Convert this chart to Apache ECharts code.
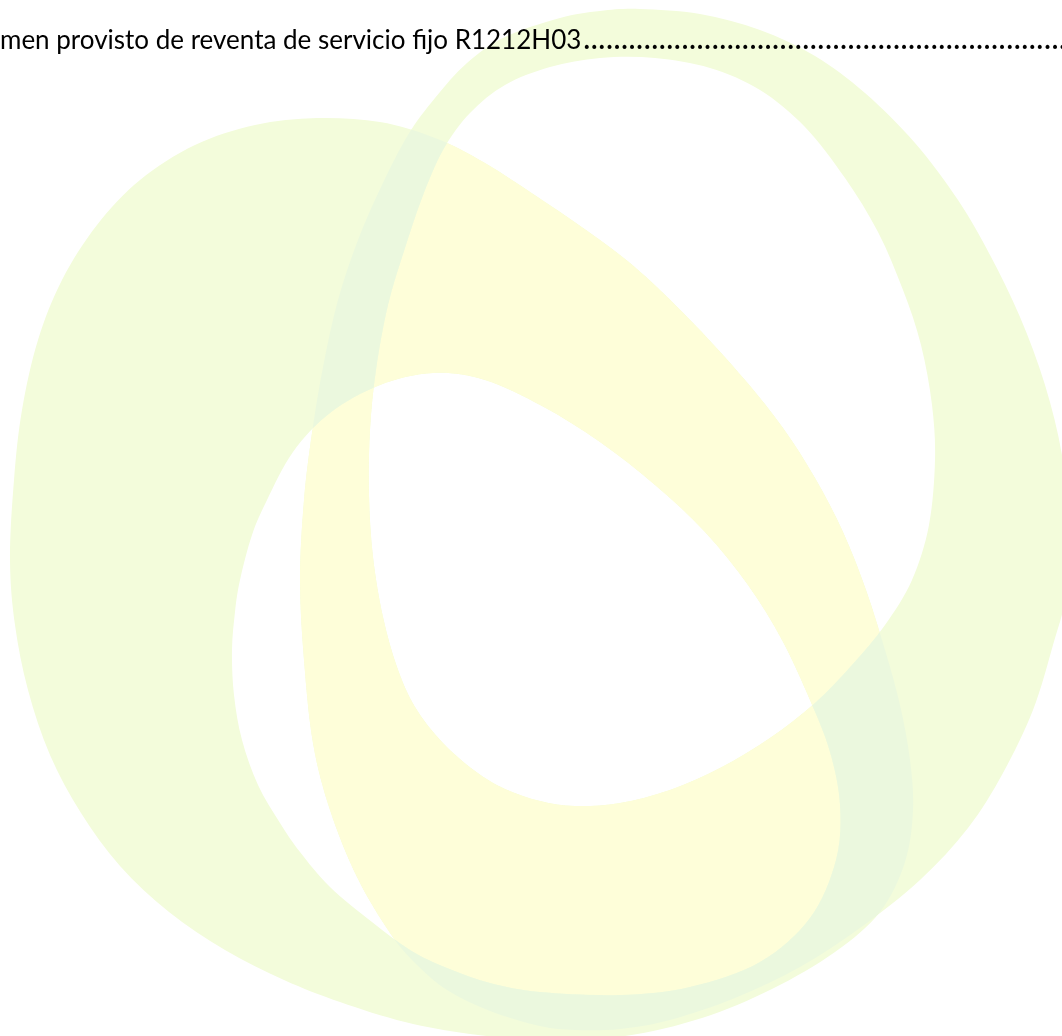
<!DOCTYPE html>
<html>
<head>
<meta charset="utf-8">
<script src="https://cdn.jsdelivr.net/npm/echarts@6/dist/echarts.min.js"></script>
<style>
  html, body { margin: 0; padding: 0; background: #fff; }
  #chart { width: 1062px; height: 1036px; }
</style>
</head>
<body>
<div id="chart"></div>
<script>
// heading line (cut at the left, as in the page)
const headingText = 'men provisto de reventa de servicio fijo R1212H03'
const leaderCount = 80

// watermark outlines (x, y in page pixels)
const leftOuter = [
  [10, 560], [14, 480], [22, 410], [38, 340], [62, 280], [97, 225], [140, 180], [195, 145],
  [255, 125], [317, 118], [380, 122], [435, 138], [485, 163], [545, 202], [600, 240], [645, 276],
  [695, 325], [745, 380], [783, 428], [815, 478], [843, 532], [866, 590], [885, 650], [900, 705],
  [910, 760], [913, 810], [905, 862], [880, 912], [835, 952], [772, 989], [702, 1018], [625, 1036],
  [545, 1040], [470, 1034], [405, 1022], [340, 1002], [284, 980], [225, 950], [169, 912], [120, 866],
  [81, 813], [50, 755], [28, 690], [15, 625],
]
const leftInner = [
  [232, 650], [235, 612], [240, 580], [252, 535], [267, 500], [293, 452], [330, 413], [380, 385],
  [433, 373], [485, 380], [542, 406], [600, 442], [655, 485], [705, 532], [748, 585], [782, 640],
  [810, 700], [830, 752], [840, 805], [836, 860], [810, 918], [760, 962], [690, 987], [620, 995],
  [540, 992], [490, 983], [447, 968], [410, 950], [372, 922], [330, 887], [300, 852], [280, 823],
  [258, 785], [242, 740], [234, 695],
]
const rightOuter = [
  [640, 9], [700, 14], [760, 30], [815, 56], [865, 93], [915, 143], [958, 200], [990, 255],
  [1020, 317], [1045, 385], [1062, 455], [1070, 530], [1066, 595], [1053, 645], [1033, 710], [1003, 773],
  [968, 828], [920, 880], [860, 928], [800, 967], [735, 998], [670, 1020], [620, 1029], [575, 1030],
  [540, 1026], [490, 1011], [447, 990], [415, 963], [390, 933], [357, 877], [330, 810], [313, 743],
  [304, 660], [300, 580], [304, 500], [312, 433], [323, 367], [338, 300], [358, 240], [382, 185],
  [408, 135], [435, 98], [467, 63], [505, 37], [560, 18], [600, 11],
]
const rightInner = [
  [600, 58], [655, 58], [710, 68], [760, 90], [805, 127], [845, 178], [878, 232], [903, 290],
  [921, 345], [932, 405], [935, 460], [929, 525], [912, 580], [885, 625], [852, 665], [815, 703],
  [770, 738], [720, 768], [670, 790], [620, 803], [575, 806], [540, 801], [505, 789], [475, 771],
  [442, 742], [415, 707], [397, 667], [383, 617], [373, 557], [369, 495], [370, 430], [376, 370],
  [388, 305], [405, 248], [422, 198], [443, 150], [470, 113], [505, 85], [550, 67],
]

const ringColor = '#f3fcdb'
const holeColor = '#fefed9'
const crossColor = '#ebf8de'

// closed catmull-rom -> cubic bezier path
function smoothPath(pts) {
  const n = pts.length
  const f = (v) => v.toFixed(1)
  let d = `M${f(pts[0][0])} ${f(pts[0][1])}`
  for (let i = 0; i < n; i++) {
    const p0 = pts[(i - 1 + n) % n]
    const p1 = pts[i]
    const p2 = pts[(i + 1) % n]
    const p3 = pts[(i + 2) % n]
    const c1x = p1[0] + (p2[0] - p0[0]) / 6
    const c1y = p1[1] + (p2[1] - p0[1]) / 6
    const c2x = p2[0] - (p3[0] - p1[0]) / 6
    const c2y = p2[1] - (p3[1] - p1[1]) / 6
    d += ` C${f(c1x)} ${f(c1y)} ${f(c2x)} ${f(c2y)} ${f(p2[0])} ${f(p2[1])}`
  }
  return d + ' Z'
}

function area(pts) {
  let s = 0
  for (let i = 0; i < pts.length; i++) {
    const a = pts[i]
    const b = pts[(i + 1) % pts.length]
    s += a[0] * b[1] - b[0] * a[1]
  }
  return s
}

// outer + reversed inner -> hole under nonzero fill
function ringPath(outer, inner) {
  const hole = Math.sign(area(outer)) === Math.sign(area(inner)) ? inner.slice().reverse() : inner
  return smoothPath(outer) + ' ' + smoothPath(hole)
}

function renderItem(params, api) {
  const map = (pts) => pts.map((p) => api.coord(p))
  const lo = map(leftOuter)
  const li = map(leftInner)
  const ro = map(rightOuter)
  const ri = map(rightInner)
  const leftRing = ringPath(lo, li)
  const rightRing = ringPath(ro, ri)
  const layer = (d, fill, z2, clip) => {
    const el = {
      type: 'path',
      z2,
      shape: { pathData: d },
      style: { fill },
      silent: true,
    }
    if (clip) el.clipPath = { type: 'path', shape: { pathData: clip } }
    return el
  }
  return {
    type: 'group',
    children: [
      layer(leftRing, ringColor, 1),
      layer(rightRing, ringColor, 2),
      // left ring seen through the right hole
      layer(smoothPath(ri), holeColor, 3, leftRing),
      // right ring seen through the left hole
      layer(smoothPath(li), holeColor, 4, rightRing),
      // where both rings cross
      layer(leftRing, crossColor, 5, rightRing),
    ],
  }
}

const chart = echarts.init(document.getElementById('chart'), null, { renderer: 'canvas' })

chart.setOption({
  animation: false,
  backgroundColor: 'transparent',
  grid: { left: 0, right: 0, top: 0, bottom: 0 },
  xAxis: { type: 'value', min: 0, max: 1062, show: false },
  yAxis: { type: 'value', min: 0, max: 1036, inverse: true, show: false },
  series: [
    {
      type: 'custom',
      silent: true,
      clip: false,
      renderItem,
      data: [[0, 0]],
    },
  ],
  graphic: [
    {
      type: 'text',
      x: 0,
      y: 41,
      z: 100,
      silent: true,
      style: {
        text: headingText,
        fontFamily: 'Lato',
        fontSize: 26,
        fill: '#000',
        verticalAlign: 'middle',
      },
    },
    {
      type: 'text',
      x: 583,
      y: 39,
      z: 100,
      silent: true,
      style: {
        text: '.'.repeat(leaderCount),
        fontFamily: 'Lato',
        fontSize: 32,
        fill: '#000',
        verticalAlign: 'middle',
      },
    },
  ],
})
</script>
</body>
</html>
